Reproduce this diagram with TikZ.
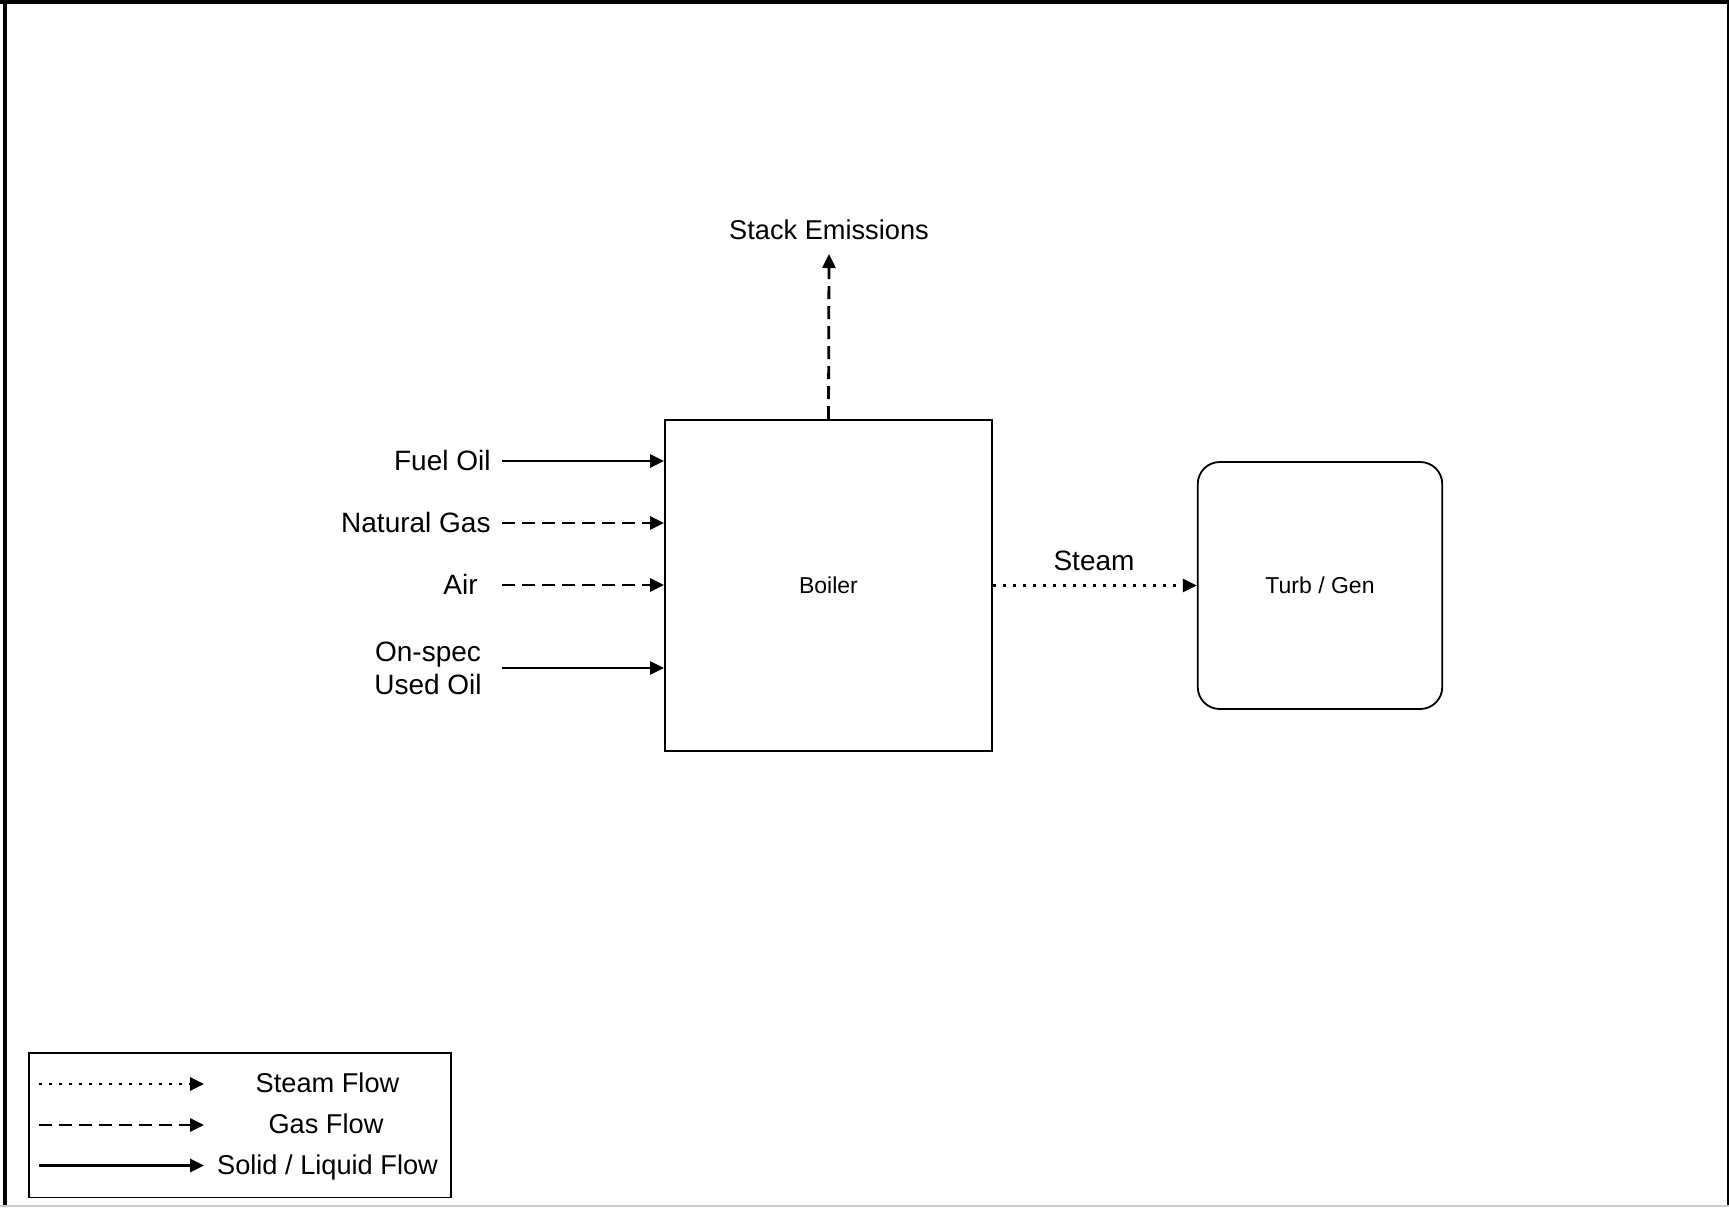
\documentclass[tikz,border=0pt]{standalone}
\usepackage{fontspec}
\setmainfont{Liberation Sans}
\usetikzlibrary{arrows.meta}
\begin{document}
\begin{tikzpicture}[x=0.5pt,y=-0.5pt,
  lbl/.style={font=\fontsize{14}{17}\selectfont, inner sep=0pt},
  leglbl/.style={font=\fontsize{13.6}{16}\selectfont, inner sep=0pt},
  boxtxt/.style={font=\fontsize{11.5}{14}\selectfont},
  box/.style={draw, line width=0.9pt, inner sep=0pt},
  flow/.style={line width=1.4pt, -{Triangle[length=7pt,width=6.5pt]}},
  gasline/.style={flow, dash pattern=on 6.5pt off 3.5pt},
  steamline/.style={flow, dash pattern=on 1.6pt off 3.4pt},
]
\useasboundingbox (0,0) rectangle (1729,1207);
% page frame
\draw[line width=2pt] (5,0) -- (5,1207);
\draw[line width=2pt] (0,2) -- (1729,2);
\draw[line width=1pt] (1727.5,0) -- (1727.5,1207);
\draw[line width=0.8pt, black!20] (0,1206) -- (1729,1206);

% main boxes
\node[box, minimum width=163.5pt, minimum height=165.5pt, boxtxt] (boiler) at (828.5,585.5) {Boiler};
\node[box, rounded corners=11pt, minimum width=122.25pt, minimum height=123.5pt, boxtxt] (turb) at (1320,585.5) {Turb / Gen};

% input labels
\node[lbl, anchor=east] (fuel) at (491,460) {Fuel Oil};
\node[lbl, anchor=east] (gas) at (491,522) {Natural Gas};
\node[lbl, anchor=east] (air) at (478,584) {Air};
\node[lbl, align=center, font=\fontsize{14}{16.5}\selectfont] (used) at (428,668) {On-spec\\Used Oil};

\coordinate (fuelS) at (502,461);
\coordinate (gasS) at (502,523);
\coordinate (airS) at (502,585);
\coordinate (usedS) at (502,668);

\draw[flow] (fuelS) -- (fuelS -| boiler.west);
\draw[gasline] (gasS) -- (gasS -| boiler.west);
\draw[gasline] (airS) -- (airS -| boiler.west);
\draw[flow] (usedS) -- (usedS -| boiler.west);

% stack
\node[lbl, font=\fontsize{13.6}{16}\selectfont] (stack) at (829,230) {Stack Emissions};
\coordinate (stackE) at (829,254);
\draw[gasline] (boiler.north) -- (stackE);

% steam
\draw[steamline] (boiler.east |- turb.west) -- (turb.west);
\node[lbl] (steam) at (1094,561) {Steam};

% legend
\node[draw, line width=0.8pt, minimum width=211pt, minimum height=72.25pt, inner sep=0pt] (legend) at (240,1125.25) {};
\coordinate (l1a) at (38.6,1084);
\coordinate (l1b) at (204,1084);
\coordinate (l2a) at (38.6,1125);
\coordinate (l2b) at (204,1125);
\coordinate (l3a) at (38.6,1165.5);
\coordinate (l3b) at (204,1165.5);
\draw[steamline] (l1a) -- (l1b);
\draw[gasline] (l2a) -- (l2b);
\draw[flow] (l3a) -- (l3b);
\node[leglbl] (lg1) at (327.5,1083) {Steam Flow};
\node[leglbl] (lg2) at (326,1124) {Gas Flow};
\node[leglbl] (lg3) at (327.5,1167.5) {Solid / Liquid Flow};
\end{tikzpicture}
\end{document}
